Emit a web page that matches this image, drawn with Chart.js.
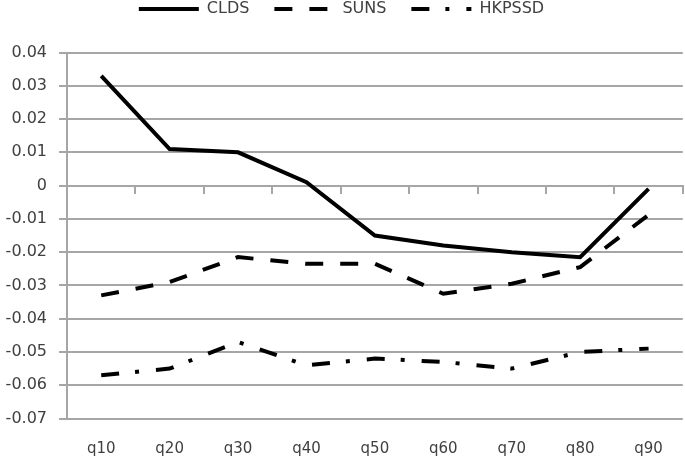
<!DOCTYPE html>
<html>
<head>
<meta charset="utf-8">
<script src="https://cdn.jsdelivr.net/npm/chart.js@4/dist/chart.umd.min.js"></script>
<style>
  html, body { margin: 0; padding: 0; background: #ffffff; }
  #wrap { width: 685px; height: 459px; position: relative; }
</style>
</head>
<body>
<div id="wrap"><canvas id="c" width="685" height="459"></canvas></div>
<script>
const categories = ['q10', 'q20', 'q30', 'q40', 'q50', 'q60', 'q70', 'q80', 'q90'];
const seriesNames = ['CLDS', 'SUNS', 'HKPSSD'];
const cldsValues = [0.033, 0.011, 0.010, 0.001, -0.015, -0.018, -0.020, -0.0215, -0.001];
const sunsValues = [-0.033, -0.029, -0.0215, -0.0235, -0.0235, -0.0325, -0.0295, -0.0245, -0.0088];
const hkpssdValues = [-0.057, -0.055, -0.047, -0.054, -0.052, -0.053, -0.055, -0.050, -0.049];
const yTickLabels = ['0.04', '0.03', '0.02', '0.01', '0', '-0.01', '-0.02', '-0.03', '-0.04', '-0.05', '-0.06', '-0.07'];

const gridColor = '#a6a6a6';
const textColor = '#404040';
const fontFamily = 'DejaVu Sans';
Chart.defaults.font.family = fontFamily;

const legendTweak = {
  id: 'legendTweak',
  beforeUpdate(chart) {
    const lg = chart.legend;
    if (lg && !lg._tweaked) {
      const f = lg.fit.bind(lg);
      lg.fit = function () { f(); this.height = 76.5; };
      lg._tweaked = true;
    }
  }
};

new Chart(document.getElementById('c'), {
  type: 'line',
  data: {
    labels: categories,
    datasets: [
      { label: seriesNames[0], data: cldsValues, borderColor: '#000', backgroundColor: '#000', borderWidth: 4, pointRadius: 0, tension: 0, borderCapStyle: 'butt' },
      { label: seriesNames[1], data: sunsValues, borderColor: '#000', backgroundColor: '#000', borderWidth: 4, pointRadius: 0, tension: 0, borderDash: [18, 17], borderCapStyle: 'butt' },
      { label: seriesNames[2], data: hkpssdValues, borderColor: '#000', backgroundColor: '#000', borderWidth: 4, pointRadius: 0, tension: 0, borderDash: [18, 16, 4, 17], borderCapStyle: 'butt' }
    ]
  },
  options: {
    responsive: false,
    animation: false,
    devicePixelRatio: 1,
    layout: { padding: { top: -24, left: 0, right: 2, bottom: 0 } },
    plugins: {
      legend: {
        position: 'top',
        labels: {
          usePointStyle: true,
          pointStyle: 'line',
          pointStyleWidth: 60,
          boxHeight: 16,
          padding: 25,
          color: textColor,
          font: { family: fontFamily, size: 16 },
          generateLabels(ch) {
            const items = Chart.defaults.plugins.legend.labels.generateLabels(ch);
            items.forEach((it, i) => {
              const ds = ch.data.datasets[i];
              it.lineDash = ds.borderDash || [];
              it.lineWidth = 4;
              it.strokeStyle = '#000';
              it.lineCap = 'butt';
              it.pointStyle = 'line';
            });
            return items;
          }
        }
      },
      tooltip: { enabled: false }
    },
    scales: {
      x: {
        type: 'category',
        position: 'bottom',
        offset: true,
        grid: { display: false, drawTicks: false },
        border: { display: false },
        ticks: { color: textColor, font: { family: fontFamily, size: 15 }, padding: 22, maxRotation: 0, autoSkip: false },
        afterFit(s) { s.height = 40.5; }
      },
      xZero: {
        type: 'category',
        labels: categories,
        position: { y: 0 },
        offset: true,
        grid: { offset: true, drawOnChartArea: false, drawTicks: true, tickLength: 7, color: gridColor, lineWidth: 2 },
        border: { display: true, color: gridColor, width: 2 },
        ticks: { display: false }
      },
      y: {
        min: -0.07,
        max: 0.04,
        ticks: {
          stepSize: 0.01,
          color: textColor,
          font: { family: fontFamily, size: 16 },
          padding: 12,
          callback: (v) => yTickLabels[Math.round((0.04 - v) * 100)]
        },
        grid: { color: gridColor, lineWidth: 2, drawTicks: true, tickLength: 8 },
        border: { color: gridColor, width: 2 },
        afterFit(s) { s.width = 67; }
      }
    }
  },
  plugins: [legendTweak]
});
</script>
</body>
</html>
